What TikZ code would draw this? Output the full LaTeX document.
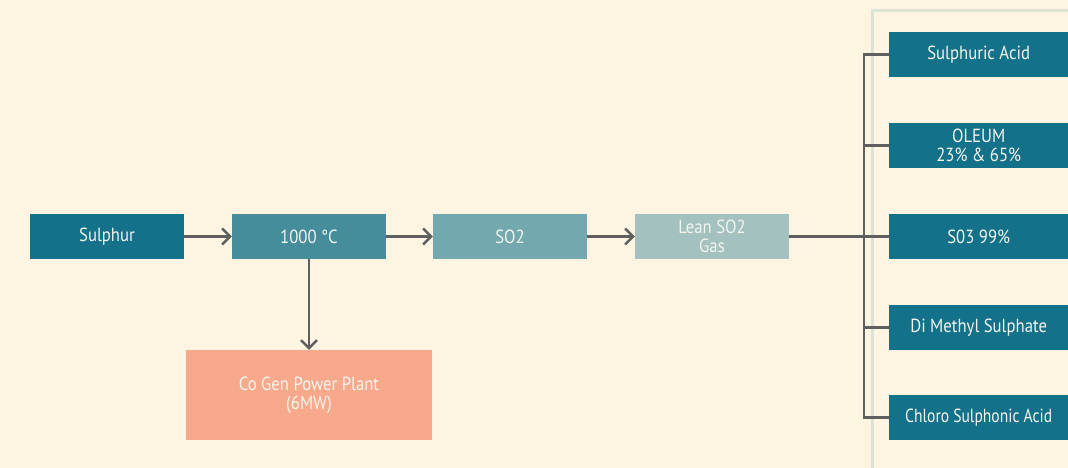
\documentclass[tikz,border=0pt]{standalone}
\usepackage{fontspec}
\setmainfont[FakeStretch=0.88]{PT Sans}
\usetikzlibrary{arrows.meta}
\definecolor{bg}{HTML}{FDF5E2}
\definecolor{cA}{HTML}{13718A}
\definecolor{cB}{HTML}{458D9B}
\definecolor{cC}{HTML}{72A8AE}
\definecolor{cD}{HTML}{A2C1BF}
\definecolor{cE}{HTML}{F9A98B}
\definecolor{ln}{HTML}{5F5F5F}
\definecolor{fr}{HTML}{DCE3D5}
\definecolor{tx}{HTML}{F4F4EE}
\tikzset{
  box/.style={rectangle, minimum width=154pt, minimum height=45pt, inner sep=0pt,
    text=tx, font=\fontsize{19}{19}\selectfont, align=center},
  prod/.style={box, fill=cA, minimum width=179pt, anchor=west},
  conn/.style={draw=ln, line width=2.4pt},
  arr/.style={conn, -{Straight Barb[length=8pt,width=16pt,line width=2.4pt]}}
}
\begin{document}
\begin{tikzpicture}[x=1pt,y=-1pt]
\useasboundingbox (0,0) rectangle (1068,468);
\clip (0,0) rectangle (1068,468);
\fill[bg] (0,0) rectangle (1068,468);
\draw[fr, line width=3pt] (872,470) -- (872,11) -- (1070,11);
\node[box, fill=cA] (sul) at (107,236.5) {Sulphur};
\node[box, fill=cB] (heat) at (309,236.5) {1000 °C};
\node[box, fill=cC] (so2) at (510,236.5) {SO2};
\node[box, fill=cD] (lean) at (712,236.5) {Lean SO2\\[0pt]Gas};
\node[box, fill=cE, minimum width=246pt, minimum height=90pt] (cogen) at (309,395) {Co Gen Power Plant\\[0pt](6MW)};
\node[prod] (p1) at (889,54.5) {Sulphuric Acid};
\node[prod] (p2) at (889,145.5) {OLEUM\\[0pt]23\% \& 65\%};
\node[prod] (p3) at (889,236.5) {S03 99\%};
\node[prod] (p4) at (889,327.5) {Di Methyl Sulphate};
\node[prod] (p5) at (889,417.5) {\addfontfeature{FakeStretch=0.82}Chloro Sulphonic Acid};
\coordinate (bt) at (864,54.5);
\coordinate (bb) at (864,417.5);
\draw[arr] (sul.east) -- (heat.west);
\draw[arr] (heat.east) -- (so2.west);
\draw[arr] (so2.east) -- (lean.west);
\draw[arr] (heat.south) -- (cogen.north);
\draw[conn] (lean.east) -- (p3.west);
\draw[conn] (p1.west) -- (bt) -- (bb) -- (p5.west);
\draw[conn] (p2.west) -- (864,145.5);
\draw[conn] (p4.west) -- (864,327.5);
\end{tikzpicture}
\end{document}
